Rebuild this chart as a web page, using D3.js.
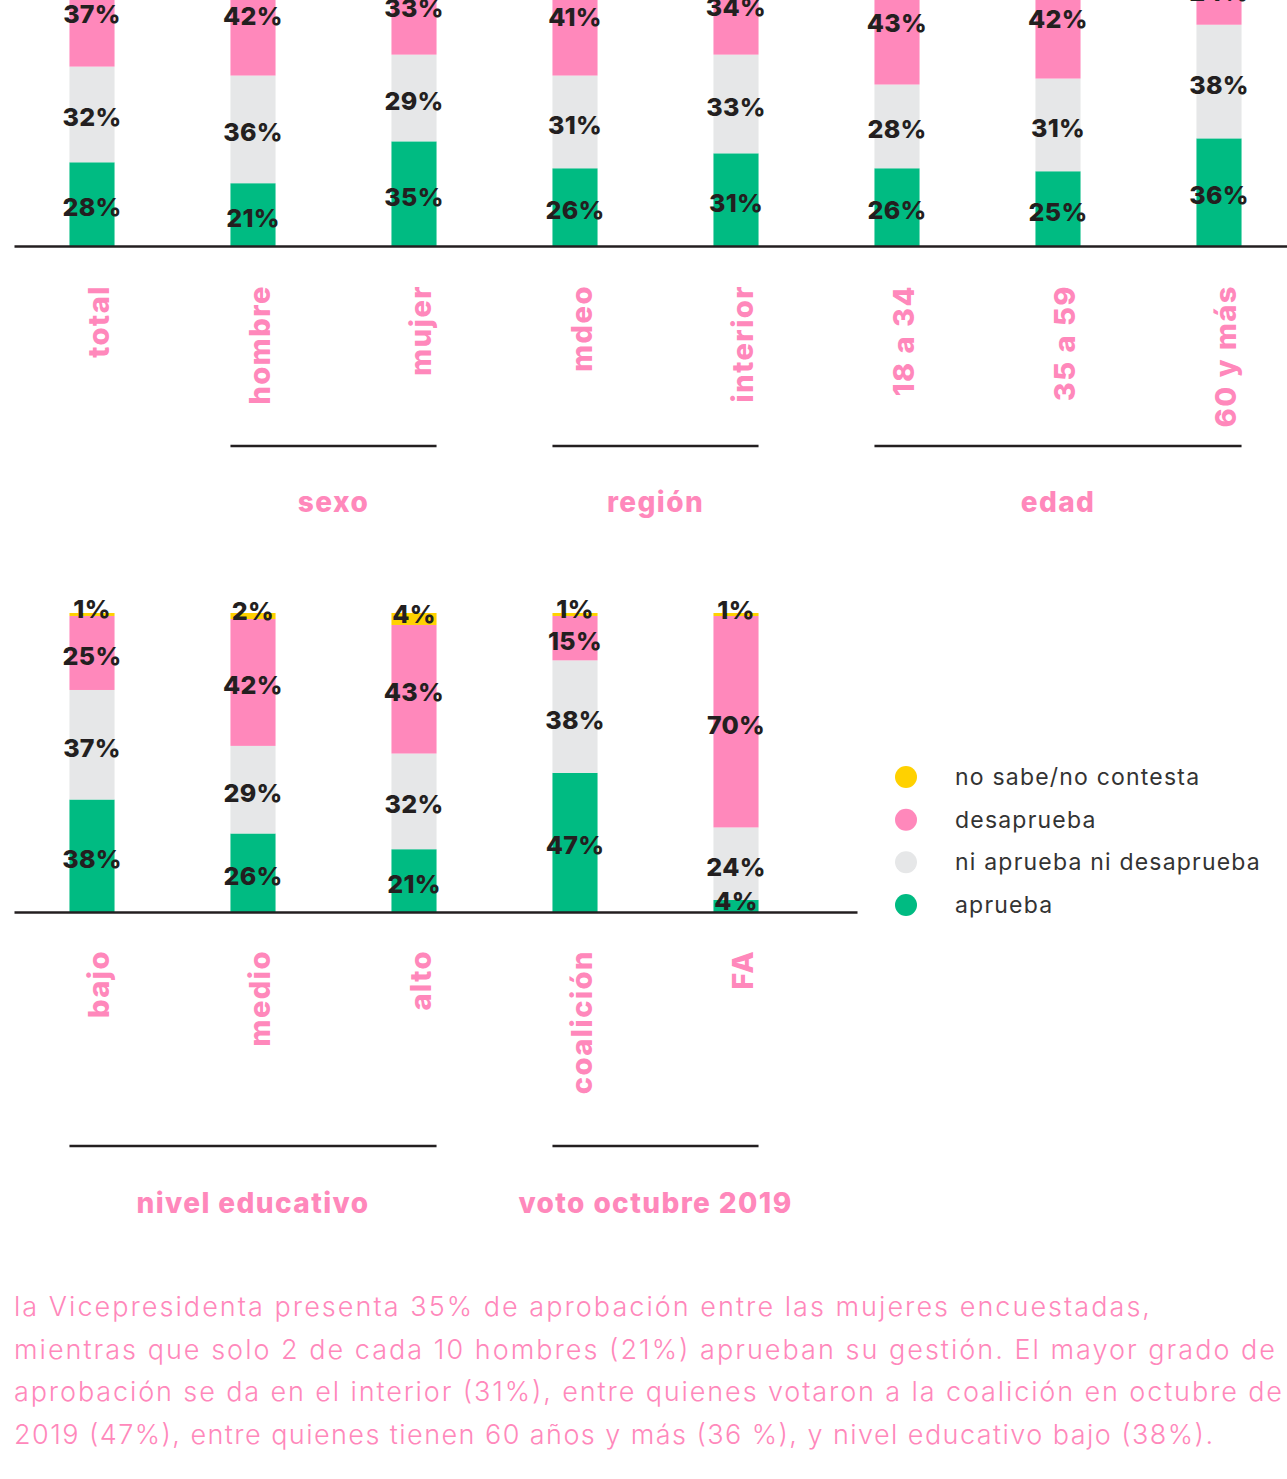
<!DOCTYPE html>
<html><head><meta charset="utf-8">
<script src="https://cdn.jsdelivr.net/npm/d3@7"></script>
<style>
body{margin:0;background:#fff;}
svg{display:block;}
</style></head>
<body>
<div id="chart"></div>
<script>
// ---- data ----
const seriesKeys = ["aprueba","ni","desaprueba","nsnc"];
const seriesNames = ["aprueba","ni aprueba ni desaprueba","desaprueba","no sabe/no contesta"];
const seriesColors = ["#00BB82","#E6E7E8","#FF88BB","#FFD100"];

const topCategories = ["total","hombre","mujer","mdeo","interior","18 a 34","35 a 59","60 y más"];
const topAprueba    = [28,21,35,26,31,26,25,36];
const topNi         = [32,36,29,31,33,28,31,38];
const topDesaprueba = [37,42,33,41,34,43,42,24];
const topNsnc       = [3,1,3,2,2,3,2,2];

const botCategories = ["bajo","medio","alto","coalición","FA"];
const botAprueba    = [38,26,21,47,4];
const botNi         = [37,29,32,38,24];
const botDesaprueba = [25,42,43,15,70];
const botNsnc       = [1,2,4,1,1];

const topGroups = [{name:"sexo",from:"hombre",to:"mujer"},{name:"región",from:"mdeo",to:"interior"},{name:"edad",from:"18 a 34",to:"60 y más"}];
const botGroups = [{name:"nivel educativo",from:"bajo",to:"alto"},{name:"voto octubre 2019",from:"coalición",to:"FA"}];

const legendOrder = [3,2,1,0];

const paragraph = [
 "la Vicepresidenta presenta 35% de aprobación entre las mujeres encuestadas,",
 "mientras que solo 2 de cada 10 hombres (21%) aprueban su gestión. El mayor grado de",
 "aprobación se da en el interior (31%), entre quienes votaron a la coalición en octubre de",
 "2019 (47%), entre quienes tienen 60 años y más (36 %), y nivel educativo bajo (38%)."
];

// ---- drawing ----
const W = 1287, H = 1479;
const PINK = "#FF88BB", DARK = "#231F20";
const FONT = "Inter, 'Open Sans', sans-serif";
const svg = d3.select("#chart").append("svg").attr("width",W).attr("height",H);

const allSlots = ["s0","s1","s2","s3","s4","s5","s6","s7"];
const x = d3.scaleBand().domain(allSlots).range([11.5, 1299.5]).paddingInner(0.72).paddingOuter(0.36);

function panel(cats, arrays, baseY, topY, lineX0, lineX1, groups, groupLineY, groupLabelY, labelY){
  const g = svg.append("g");
  const y = d3.scaleLinear().domain([0,1]).range([baseY, topY]);
  const rows = cats.map((c,i)=>{const r={cat:c,slot:allSlots[i]}; seriesKeys.forEach((k,j)=>r[k]=arrays[j][i]); return r;});
  const stacked = d3.stack().keys(seriesKeys).offset(d3.stackOffsetExpand)(rows);
  const bw = x.bandwidth();
  stacked.forEach((layer,li)=>{
    g.selectAll(null).data(layer).join("rect")
      .attr("x",d=>x(d.data.slot)).attr("width",bw)
      .attr("y",d=>y(d[1])).attr("height",d=>y(d[0])-y(d[1]))
      .attr("fill",seriesColors[li]);
  });
  stacked.forEach((layer,li)=>{
    const key = seriesKeys[li];
    g.selectAll(null).data(layer).join("text")
      .attr("x",d=>x(d.data.slot)+bw/2)
      .attr("y",d=>{const h=y(d[0])-y(d[1]); return (y(d[0])+y(d[1]))/2 + (h<20?-5:3);})
      .attr("text-anchor","middle").attr("dominant-baseline","central")
      .attr("font-family",FONT).attr("font-weight",800)
      .attr("font-size",25).attr("letter-spacing","0.3").attr("fill",DARK)
      .text(d=>d.data[key]+"%");
  });
  // baseline axis
  const axis = d3.axisBottom(d3.scaleLinear().domain([0,1]).range([lineX0,lineX1])).ticks(0).tickSize(0).tickFormat("");
  g.append("g").attr("transform",`translate(0,${baseY})`).call(axis)
    .call(s=>s.select(".domain").attr("stroke",DARK).attr("stroke-width",2.5));
  // category labels
  g.selectAll(null).data(rows).join("text")
    .attr("transform",d=>`translate(${x(d.slot)+bw/2+17},${labelY}) rotate(-90)`)
    .attr("text-anchor","end")
    .attr("font-family",FONT).attr("font-weight",800)
    .attr("font-size",29).attr("letter-spacing","1.5").attr("fill",PINK)
    .text(d=>d.cat);
  // group lines & labels
  groups.forEach(gr=>{
    gr._x0 = x(allSlots[cats.indexOf(gr.from)]);
    gr._x1 = x(allSlots[cats.indexOf(gr.to)]) + bw;
  });
  g.selectAll(null).data(groups).join("line")
    .attr("x1",d=>d._x0).attr("x2",d=>d._x1).attr("y1",groupLineY).attr("y2",groupLineY)
    .attr("stroke",DARK).attr("stroke-width",2.5);
  g.selectAll(null).data(groups).join("text")
    .attr("x",d=>(d._x0+d._x1)/2).attr("y",groupLabelY)
    .attr("text-anchor","middle").attr("dominant-baseline","central")
    .attr("font-family",FONT).attr("font-weight",800)
    .attr("font-size",28).attr("letter-spacing","1.4").attr("fill",PINK)
    .text(d=>d.name);
}

panel(topCategories,[topAprueba,topNi,topDesaprueba,topNsnc],246,-53,14,1287,topGroups,446,502,285);
panel(botCategories,[botAprueba,botNi,botDesaprueba,botNsnc],912,613,14,857,botGroups,1146,1203,950);

// legend
const leg = svg.append("g");
const ly = d3.scalePoint().domain(legendOrder).range([777,905]);
leg.selectAll(null).data(legendOrder).join("circle")
  .attr("cx",906).attr("cy",d=>ly(d)).attr("r",11).attr("fill",d=>seriesColors[d]);
leg.selectAll(null).data(legendOrder).join("text")
  .attr("x",955).attr("y",d=>ly(d)).attr("dominant-baseline","central")
  .attr("font-family",FONT).attr("font-weight",400)
  .attr("font-size",23).attr("letter-spacing","1.2").attr("fill","#333")
  .text(d=>seriesNames[d]);

// paragraph
const paraWidths = [1136, 1261, 1268, 1199];
svg.append("text")
  .attr("font-family",FONT).attr("font-weight",300)
  .attr("font-size",27).attr("fill",PINK)
  .selectAll("tspan").data(paragraph).join("tspan")
  .attr("x",14).attr("y",(d,i)=>1316+i*42.7)
  .attr("textLength",(d,i)=>paraWidths[i]).attr("lengthAdjust","spacing")
  .text(d=>d);
</script>
</body></html>
